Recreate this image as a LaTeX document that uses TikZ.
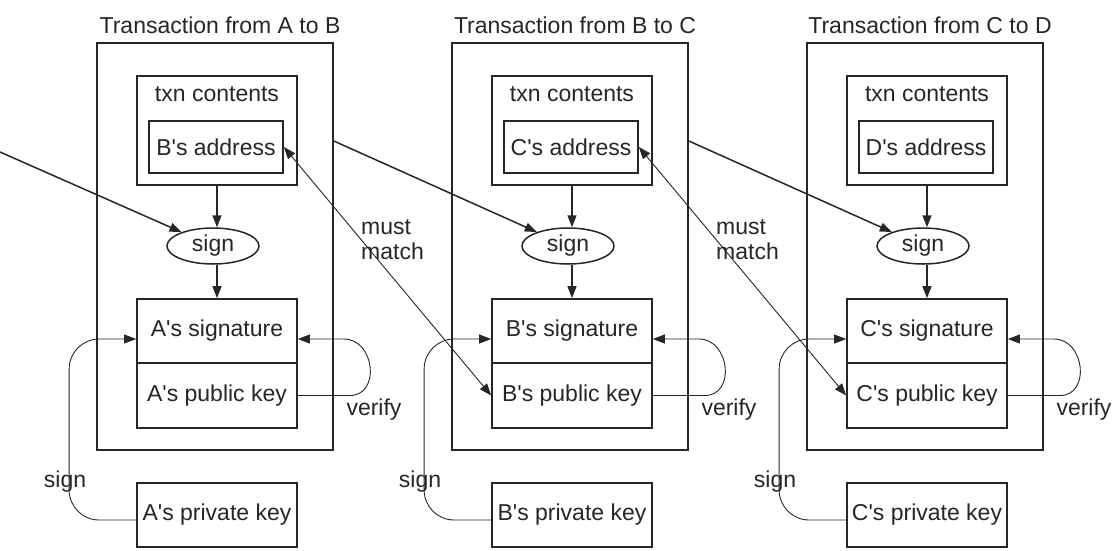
\documentclass[tikz,border=0pt]{standalone}
\usepackage{fontspec}
\newfontfamily\dfont{Liberation Sans}
\usetikzlibrary{arrows.meta,shapes.geometric,calc}
\definecolor{ink}{RGB}{38,38,38}
\tikzset{
  every node/.style={font=\dfont\fontsize{23}{25}\selectfont,text=ink},
  frame/.style={draw=ink,line width=1.9pt,rectangle,inner sep=0pt},
  cell/.style={draw=ink,line width=1.7pt,rectangle,inner sep=0pt},
  oval/.style={draw=ink,line width=1.5pt,ellipse,inner sep=0pt,minimum width=92pt,minimum height=36pt},
  label/.style={inner sep=1pt},
  arrow/.style={draw=ink,line width=1.5pt,-{Triangle[length=12pt,width=9pt]}},
  thinarrow/.style={draw=ink,line width=0.9pt,-{Triangle[length=12pt,width=9pt]}},
  bothways/.style={draw=ink,line width=0.9pt,{Triangle[length=12pt,width=9pt]}-{Triangle[length=12pt,width=9pt]}},
}
\begin{document}
\begin{tikzpicture}[x=1pt,y=-1pt]
\useasboundingbox (0,0) rectangle (1115,550);

\foreach \i/\snd/\rcv in {0/A/B,1/B/C,2/C/D}{
  \pgfmathsetmacro\L{97+355*\i}
  % transaction frame and its title
  \node[frame,minimum width=236pt,minimum height=407pt] (tx\i) at (\L+118,246.5) {};
  \node[label] (title\i) at (\L+123,25) {Transaction from \snd{} to \rcv};
  % contents with the payee's address
  \node[cell,minimum width=160pt,minimum height=109pt] (txn\i) at (\L+120,130.5) {};
  \node[label] (txt\i) at (\L+120,94) {txn contents};
  \node[cell,minimum width=134pt,minimum height=52pt] (addr\i) at (\L+119,147) {\rcv's address};
  % signing step
  \node[oval] (sg\i) at (\L+116,246) {sign};
  % signature and public key
  \node[cell,minimum width=160pt,minimum height=64pt] (sig\i) at (\L+120,331) {\snd's signature};
  \node[cell,minimum width=160pt,minimum height=65pt] (pub\i) at (\L+120,395.5) {\snd's public key};
  % private key, outside the transaction
  \node[cell,minimum width=160pt,minimum height=64pt] (priv\i) at (\L+120,515) {\snd's private key};

  \draw[arrow] (txn\i.south) -- (txn\i.south |- sg\i.north);
  \draw[arrow] (sig\i.north |- sg\i.south) -- (sig\i.north);

  % verify loop
  \draw[thinarrow] (pub\i.east) -- ++(52,0)
    to[out=0,in=0,looseness=1.4] ($(sig\i.east)+(46,8)$) -- ($(sig\i.east)+(0,8)$);
  \node[label] (ver\i) at (\L+277,410) {verify};

  % sign loop from the private key
  \draw[thinarrow,rounded corners=30pt] ($(priv\i.west)+(0,5)$) -| ($(sig\i.west)+(-67,8)$) -- ($(sig\i.west)+(0,8)$);
  \node[label] (sl\i) at (\L-32,482) {sign};
}

% hash of the previous transaction feeds each signature
\coordinate (src0) at (0,152);
\coordinate (out0) at ($(tx0.north east)+(0,99)$);
\coordinate (out1) at ($(tx1.north east)+(0,99)$);
\draw[arrow] (src0) -- (sg0);
\draw[arrow] (out0) -- (sg1);
\draw[arrow] (out1) -- (sg2);

% the payee's address must match the next owner's public key
\draw[bothways] (addr0.east) -- (pub1.west);
\draw[bothways] (addr1.east) -- (pub2.west);
\node[label,align=left,anchor=west] (mm0) at (360,240) {must\\match};
\node[label,align=left,anchor=west] (mm1) at (715,240) {must\\match};
\end{tikzpicture}
\end{document}
